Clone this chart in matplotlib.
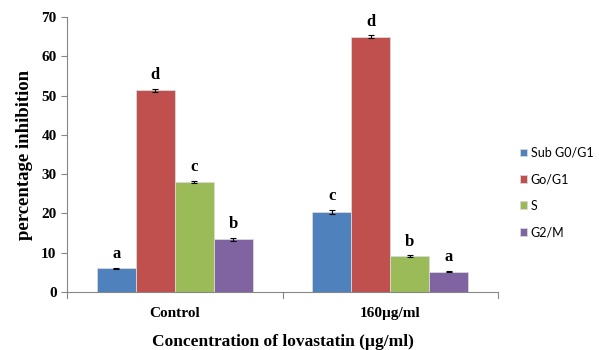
import numpy as np
import matplotlib
matplotlib.use("Agg")
import matplotlib.pyplot as plt

groups = ["Control", "160\u00b5g/ml"]
phases = ["Sub G0/G1", "Go/G1", "S", "G2/M"]
values = {
    "Sub G0/G1": [6.0, 20.3],
    "Go/G1": [51.3, 65.0],
    "S": [28.0, 9.1],
    "G2/M": [13.4, 5.2],
}
errors = {
    "Sub G0/G1": [0.2, 0.5],
    "Go/G1": [0.3, 0.3],
    "S": [0.2, 0.2],
    "G2/M": [0.3, 0.2],
}
letters = {
    "Sub G0/G1": ["a", "c"],
    "Go/G1": ["d", "d"],
    "S": ["c", "b"],
    "G2/M": ["b", "a"],
}
colors = ["#4F81BD", "#C0504D", "#9BBB59", "#8064A2"]

fig = plt.figure(figsize=(5.99, 3.5), dpi=100)
ax = fig.add_axes([67/599, 58/350, 431/599, 275/350])

x = np.arange(len(groups))
w = 0.181
for i, p in enumerate(phases):
    pos = x + (i - 1.5) * w
    ax.bar(pos, values[p], w, color=colors[i], edgecolor="#d9d9d9", linewidth=0.6,
           yerr=errors[p], error_kw=dict(ecolor="black", elinewidth=0.8, capsize=2, capthick=0.8),
           label=p, zorder=2)
    for xp, v, e, l in zip(pos, values[p], errors[p], letters[p]):
        ax.text(xp, v + e + 1.5, l, ha="center", va="bottom", fontsize=12,
                fontweight="bold", family="Liberation Serif")

ax.set_xlim(-0.5, 1.5)
ax.set_ylim(0, 70)
ax.set_yticks(range(0, 71, 10))
ax.set_xticks(x)
ax.set_xticklabels(groups, fontsize=11, fontweight="bold", family="Liberation Serif")
ax.tick_params(axis="x", length=0, pad=11)
for b in [-0.5, 0.5, 1.5]:
    ax.plot([b, b], [0, -1.5], color="#868686", lw=0.8, clip_on=False)
ax.tick_params(axis="y", length=4, color="#868686", labelsize=11, width=0.8)
for t in ax.get_yticklabels():
    t.set_fontweight("bold")
    t.set_family("Liberation Serif")
for s in ["top", "right"]:
    ax.spines[s].set_visible(False)
for s in ["left", "bottom"]:
    ax.spines[s].set_color("#868686")
    ax.spines[s].set_linewidth(0.8)

ax.set_ylabel("percentage inhibition", fontsize=13.5, fontweight="bold",
              family="Liberation Serif", labelpad=6)
ax.set_xlabel("Concentration of lovastatin (\u00b5g/ml)", fontsize=12.5, fontweight="bold",
              family="Liberation Serif", labelpad=10)

leg = ax.legend(loc="center left", bbox_to_anchor=(1.05, 0.362), frameon=False,
                prop=dict(family="Lato", size=9), handlelength=0.6, handleheight=0.6,
                handletextpad=0.3, labelspacing=1.15, borderpad=0, borderaxespad=0)

fig.savefig("out.png", dpi=100)
